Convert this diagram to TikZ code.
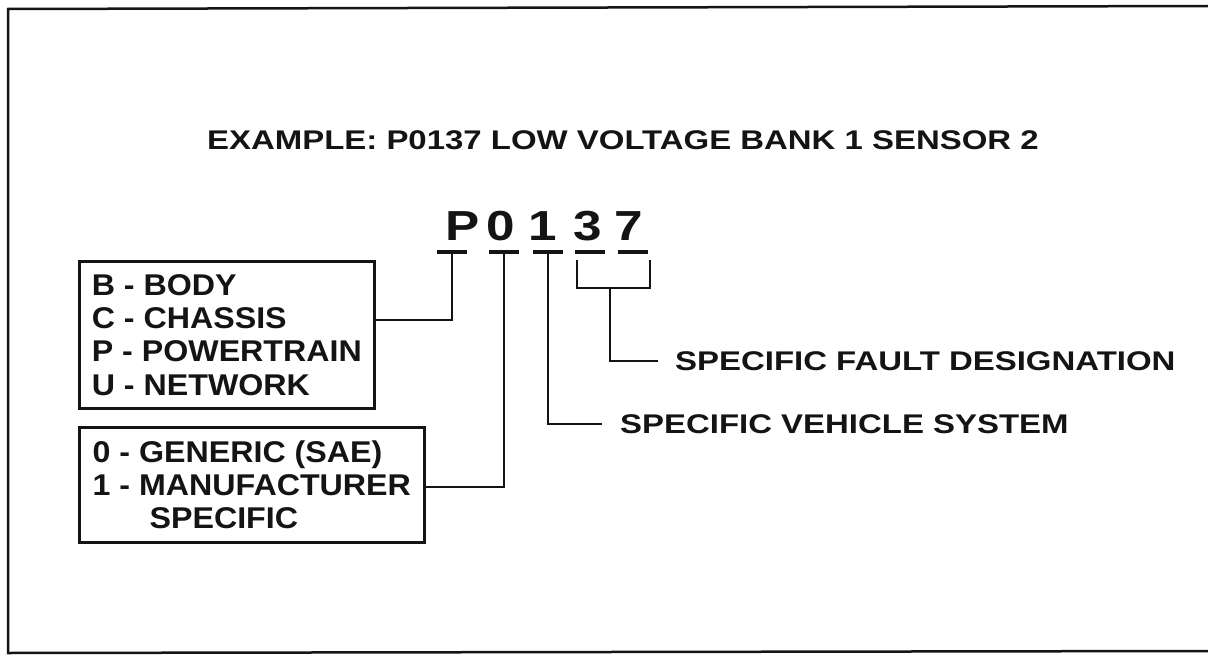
\documentclass[tikz,border=0pt]{standalone}
\usepackage{fontspec}
\usepackage{tikz}
\usepackage{xcolor}
\setmainfont{Liberation Sans}[FakeStretch=1.073]
\newfontfamily\widesans{Liberation Sans}[FakeStretch=1.22]
\usetikzlibrary{calc}
\definecolor{ink}{RGB}{20,20,20}

\tikzset{
  codebox/.style={draw=ink, line width=2.6pt, anchor=north west, align=left,
    inner xsep=12.5pt, inner ysep=0pt, text=ink,
    font=\fontsize{30}{33.3}\selectfont\bfseries},
  desc/.style={anchor=base west, inner sep=0pt, text=ink,
    font=\widesans\fontsize{27}{30}\selectfont\bfseries},
  digit/.style={anchor=base, inner sep=0pt, text=ink,
    font=\widesans\fontsize{42}{46}\selectfont\bfseries},
  bar/.style={draw=ink, line width=3.5pt},
  wire/.style={draw=ink, line width=2.4pt},
}

\begin{document}
\begin{tikzpicture}[x=1pt, y=-1pt]
    \useasboundingbox (0,0) rectangle (1208,661);
    \fill[white] (0,0) rectangle (1208,661);

    % Outer frame (open on the right)
    \draw[draw=ink, line width=2.5pt] (1208,6) -- (8,9) -- (8,653) -- (1208,651);

    % Heading
    \node[desc] (title) at (207,149) {EXAMPLE: P0137 LOW VOLTAGE BANK 1 SENSOR 2};

    % The code itself
    \node[digit] (dP) at (463,240) {P};
    \node[digit] (d0) at (501,240) {0};
    \node[digit] (d1) at (543,240) {1};
    \node[digit] (d3) at (588,240) {3};
    \node[digit] (d7) at (629,240) {7};

    % Underlines below each character
    \coordinate (uP) at (452,252);
    \coordinate (u0) at (504,252);
    \coordinate (u1) at (548,252);
    \coordinate (u3) at (590,252);
    \coordinate (u7) at (633,252);
    \foreach \u in {uP,u0,u1,u3,u7}
        \draw[bar] ($(\u)+(-15,0)$) -- ($(\u)+(15,0)$);

    % Left boxes
    \node[codebox, minimum width=295pt, minimum height=147pt]
        (types) at (78,260) {B - BODY\\C - CHASSIS\\P - POWERTRAIN\\U - NETWORK};
    \node[codebox, minimum width=345pt, minimum height=115pt]
        (makers) at (78,426) {0 - GENERIC (SAE)\\1 - MANUFACTURER\\\hspace*{57pt}SPECIFIC};

    % Right labels
    \node[desc] (fault) at (675,370) {SPECIFIC FAULT DESIGNATION};
    \node[desc] (system) at (620,433) {SPECIFIC VEHICLE SYSTEM};

    % Leaders
    \draw[wire] (uP) |- ($(types.north east)!0.4!(types.south east)$);
    \draw[wire] (u0) |- ($(makers.north east)!0.52!(makers.south east)$);
    \draw[wire] (u1) |- ($(system.west)+(-18,0)$);

    % Bracket under 3 and 7
    \coordinate (bl) at (577,260);
    \coordinate (br) at (650,260);
    \coordinate (bm) at (610,288);
    \draw[wire] (bl) |- (bm) -| (br);
    \draw[wire] (bm) |- ($(fault.west)+(-17,0)$);
\end{tikzpicture}
\end{document}
